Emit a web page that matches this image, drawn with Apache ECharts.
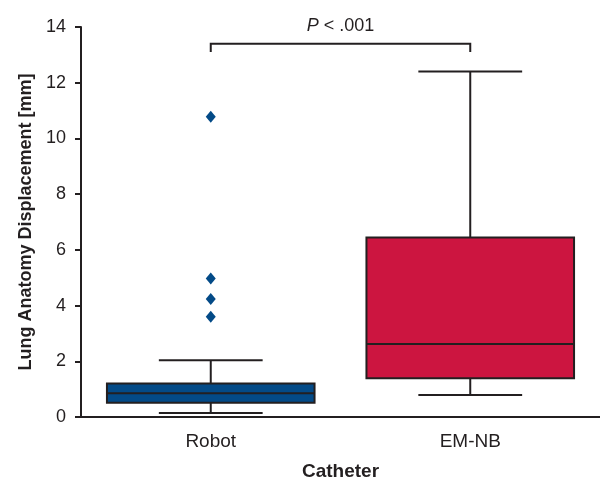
<!DOCTYPE html>
<html>
<head>
<meta charset="utf-8">
<script src="https://cdn.jsdelivr.net/npm/echarts@6/dist/echarts.min.js"></script>
<style>
  html, body { margin: 0; padding: 0; background: #fff; }
  #chart { width: 600px; height: 481px; }
</style>
</head>
<body>
<div id="chart"></div>
<script>
const categories = ["Robot", "EM-NB"];
// [min, q1, median, q3, max] per catheter
const robotBox = [0.14, 0.51, 0.85, 1.2, 2.04];
const emnbBox = [0.79, 1.39, 2.62, 6.44, 12.4];
const robotOutliers = [10.78, 4.97, 4.24, 3.6];
const boxColors = ["#034a87", "#cc1540"];
const yTicks = { min: 0, max: 14, interval: 2 };
const bracketY = 13.4;
const bracketDrop = 0.3;
const pText = ".001";

const chart = echarts.init(document.getElementById("chart"));
const font = "Liberation Sans, Arial, sans-serif";
const ink = "#231f20";

const boxData = [robotBox, emnbBox].map((b, i) => [i, ...b]);

function renderBox(params, api) {
  const cat = api.value(0);
  const band = api.size([1, 0])[0];
  const half = band * 0.4;
  const cap = band * 0.2;
  const x = api.coord([cat, 0])[0];
  const y = (v) => api.coord([cat, v])[1];
  const [ymin, yq1, ymed, yq3, ymax] = [1, 2, 3, 4, 5].map((k) => y(api.value(k)));
  const line = { stroke: ink, lineWidth: 2 };
  return {
    type: "group",
    children: [
      { type: "line", shape: { x1: x, y1: ymax, x2: x, y2: yq3 }, style: line },
      { type: "line", shape: { x1: x, y1: ymin, x2: x, y2: yq1 }, style: line },
      { type: "line", shape: { x1: x - cap, y1: ymax, x2: x + cap, y2: ymax }, style: line },
      { type: "line", shape: { x1: x - cap, y1: ymin, x2: x + cap, y2: ymin }, style: line },
      {
        type: "rect",
        shape: { x: x - half, y: yq3, width: half * 2, height: yq1 - yq3 },
        style: { fill: boxColors[cat], stroke: ink, lineWidth: 2 },
      },
      { type: "line", shape: { x1: x - half, y1: ymed, x2: x + half, y2: ymed }, style: line },
    ],
  };
}

function renderBracket(params, api) {
  const p0 = api.coord([0, bracketY]);
  const p1 = api.coord([1, bracketY]);
  const drop = api.coord([0, bracketY - bracketDrop])[1];
  return {
    type: "group",
    children: [
      {
        type: "polyline",
        shape: { points: [[p0[0], drop], [p0[0], p0[1]], [p1[0], p1[1]], [p1[0], drop]] },
        style: { stroke: ink, lineWidth: 2, fill: null },
      },
      {
        type: "text",
        x: (p0[0] + p1[0]) / 2,
        y: p0[1] - 9,
        style: {
          text: "{i|P} < " + pText,
          fontFamily: font,
          fontSize: 18,
          fill: ink,
          align: "center",
          verticalAlign: "bottom",
          rich: { i: { fontStyle: "italic", fontFamily: font, fontSize: 18, fill: ink } },
        },
      },
    ],
  };
}

const option = {
  animation: false,
  grid: { left: 81, right: 0, top: 27, bottom: 64, containLabel: false, outerBoundsMode: "none" },
  xAxis: {
    type: "category",
    data: categories,
    name: "Catheter",
    nameLocation: "middle",
    nameGap: 45,
    nameTextStyle: { fontFamily: font, fontSize: 19, fontWeight: "bold", color: ink },
    axisLine: { lineStyle: { color: ink, width: 2 } },
    axisTick: { alignWithLabel: true, length: 6, lineStyle: { color: ink, width: 2 } },
    axisLabel: { fontFamily: font, fontSize: 19, color: ink, margin: 15 },
    splitLine: { show: false },
  },
  yAxis: {
    type: "value",
    min: yTicks.min,
    max: yTicks.max,
    interval: yTicks.interval,
    name: "Lung Anatomy Displacement [mm]",
    nameLocation: "middle",
    nameGap: 46,
    nameTextStyle: { fontFamily: font, fontSize: 18, fontWeight: "bold", color: ink },
    axisLine: { show: true, lineStyle: { color: ink, width: 2 } },
    axisTick: { show: true, length: 6, lineStyle: { color: ink, width: 2 } },
    axisLabel: { fontFamily: font, fontSize: 18, color: ink, margin: 15 },
    splitLine: { show: false },
  },
  series: [
    {
      type: "custom",
      renderItem: renderBox,
      data: boxData,
      encode: { x: 0, y: [1, 5] },
      clip: false,
    },
    {
      type: "scatter",
      data: robotOutliers.map((v) => [0, v]),
      symbol: "diamond",
      symbolSize: [10, 12],
      itemStyle: { color: boxColors[0], opacity: 1 },
    },
    {
      type: "custom",
      renderItem: renderBracket,
      data: [[0, bracketY]],
      clip: false,
      silent: true,
    },
  ],
};
chart.setOption(option);
</script>
</body>
</html>
